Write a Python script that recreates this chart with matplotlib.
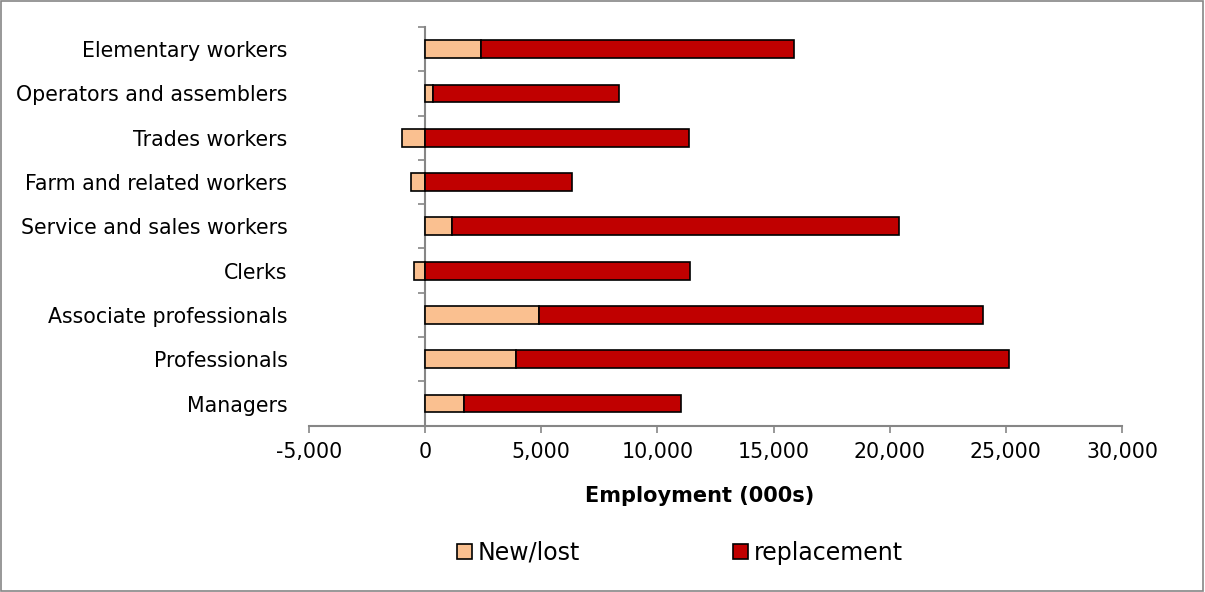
import matplotlib
matplotlib.use('Agg')
import matplotlib.pyplot as plt
from matplotlib.ticker import StrMethodFormatter
from matplotlib.patches import Rectangle
import numpy as np

# Employment openings by occupation group (000s)
categories = ['Managers', 'Professionals', 'Associate professionals', 'Clerks',
              'Service and sales workers', 'Farm and related workers',
              'Trades workers', 'Operators and assemblers', 'Elementary workers']
new_lost = [1690, 3920, 4910, -500, 1150, -620, -1000, 350, 2410]
replacement = [9310, 21230, 19090, 11400, 19230, 6340, 11370, 8000, 13480]
series_names = ['New/lost', 'replacement']
x_ticks = [-5000, 0, 5000, 10000, 15000, 20000, 25000, 30000]

peach = '#FAC090'
red = '#C00000'
grey = '#868686'

plt.rcParams['font.family'] = 'DejaVu Sans'
plt.rcParams['axes.unicode_minus'] = False

fig = plt.figure(figsize=(12.05, 5.92), dpi=100)
ax = fig.add_axes([309 / 1205, 1 - 425.7 / 592, (1122 - 309) / 1205, (425.7 - 27) / 592])

y = np.arange(len(categories))
# replacement bars stack on top of positive new/lost, start at 0 otherwise
start = [max(v, 0) for v in new_lost]
ax.barh(y, new_lost, height=0.4, color=peach, edgecolor='black', linewidth=1.2,
        label=series_names[0], zorder=3)
ax.barh(y, replacement, left=start, height=0.4, color=red, edgecolor='black',
        linewidth=1.2, label=series_names[1], zorder=3)

ax.set_xlim(x_ticks[0], x_ticks[-1])
ax.set_ylim(-0.5, len(categories) - 0.5)
ax.set_xticks(x_ticks)
ax.xaxis.set_major_formatter(StrMethodFormatter('{x:,.0f}'))
ax.tick_params(axis='x', direction='out', length=5, width=1.2, color=grey,
               labelsize=14.8, pad=7)

# category names sit at the left edge, the vertical axis line sits at x = 0
ax.set_yticks(y)
ax.set_yticklabels(categories)
ax.tick_params(axis='y', length=0, labelsize=14.8, pad=15.5)
for side in ['top', 'right', 'left']:
    ax.spines[side].set_visible(False)
ax.spines['bottom'].set_color(grey)
ax.spines['bottom'].set_linewidth(1.5)

zero_axis = ax.secondary_yaxis(0, transform=ax.transData)
zero_axis.spines['left'].set_color(grey)
zero_axis.spines['left'].set_linewidth(1.5)
zero_axis.set_yticks(np.arange(len(categories) + 1) - 0.5)
zero_axis.set_yticklabels([])
zero_axis.tick_params(axis='y', direction='out', length=5, width=1.2, color=grey)

ax.set_xlabel('Employment (000s)', fontsize=15, fontweight='bold')
ax.xaxis.set_label_coords(0.481, -0.176)
ax.xaxis.label.set_va('center')

fig.legend(loc='center', bbox_to_anchor=(680 / 1205, 1 - 553 / 592), ncol=2,
           frameon=False, fontsize=17, handlelength=0.6, handleheight=0.6,
           handletextpad=0.25, columnspacing=6.5)

fig.patches.append(Rectangle((0.001, 0.001), 0.997, 0.997, transform=fig.transFigure,
                             fill=False, edgecolor=grey, linewidth=1.2))

fig.savefig('out.png', dpi=100)
